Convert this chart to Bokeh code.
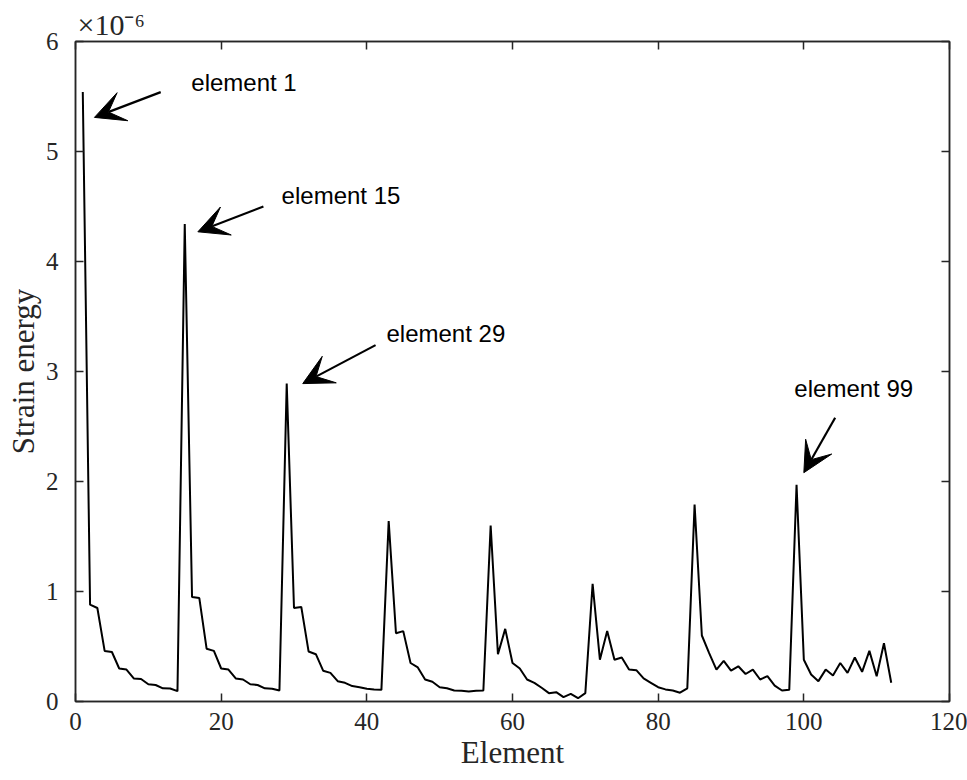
from bokeh.plotting import figure
from bokeh.models import (LinearAxis, FixedTicker, Arrow, VeeHead,
                          ColumnDataSource)
from bokeh.core.properties import value
from bokeh.embed import file_html
from bokeh.resources import INLINE

# ---- data (strain energy in units of 1e-6) ----
elements = list(range(1, 113))
strain_energy = [
    5.54, 0.88, 0.85, 0.46, 0.45, 0.30, 0.29, 0.21, 0.205, 0.157,
    0.15, 0.12, 0.118, 0.094, 4.34, 0.95, 0.94, 0.48, 0.46, 0.30,
    0.29, 0.21, 0.20, 0.157, 0.15, 0.12, 0.115, 0.10, 2.89, 0.85,
    0.86, 0.455, 0.43, 0.28, 0.26, 0.185, 0.17, 0.14, 0.13, 0.115,
    0.11, 0.106, 1.64, 0.62, 0.64, 0.35, 0.31, 0.20, 0.18, 0.13,
    0.12, 0.10, 0.097, 0.09, 0.097, 0.10, 1.60, 0.43, 0.66, 0.35,
    0.30, 0.20, 0.17, 0.125, 0.076, 0.085, 0.04, 0.07, 0.03, 0.076,
    1.07, 0.38, 0.64, 0.38, 0.40, 0.29, 0.285, 0.21, 0.17, 0.13,
    0.11, 0.10, 0.08, 0.12, 1.79, 0.60, 0.44, 0.29, 0.37, 0.28,
    0.32, 0.25, 0.29, 0.20, 0.23, 0.145, 0.10, 0.106, 1.97, 0.38,
    0.245, 0.185, 0.29, 0.236, 0.35, 0.26, 0.40, 0.27, 0.46, 0.23,
    0.53, 0.17,
]
x_ticks = [0, 20, 40, 60, 80, 100, 120]
y_ticks = [0, 1, 2, 3, 4, 5, 6]
exponent_text = "\u00d710\u207b\u2076"

# annotations (data coordinates)
ann_text = ["element 1", "element 15", "element 29", "element 99"]
ann_text_x = [15.9, 28.3, 42.7, 98.7]
ann_text_y = [5.63, 4.60, 3.35, 2.85]
arrow_x0 = [11.7, 25.8, 41.2, 104.3]
arrow_y0 = [5.54, 4.50, 3.24, 2.58]
arrow_x1 = [2.6, 16.8, 31.2, 100.0]
arrow_y1 = [5.31, 4.27, 2.89, 2.08]

AX = "#262626"
SERIF = "Liberation Serif"
SANS = "Liberation Sans"

p = figure(width=967, height=780, x_range=(0, 120), y_range=(0, 6),
           output_backend="svg", toolbar_location=None,
           min_border_left=75, min_border_right=18,
           min_border_top=41, min_border_bottom=79,
           background_fill_color="white", border_fill_color="white")
p.grid.visible = False
p.outline_line_color = AX
p.outline_line_width = 1.5

# exponent marker as left-aligned title
p.title.text = exponent_text
p.title.align = "left"
p.title.offset = 2
p.title.standoff = 1
p.title.text_font = SERIF
p.title.text_font_style = "normal"
p.title.text_font_size = "30px"
p.title.text_color = AX

p.line(elements, strain_energy, line_color="black", line_width=2)

def style_axis(ax, ticks, show_labels):
    ax.ticker = FixedTicker(ticks=ticks)
    ax.axis_line_color = AX
    ax.axis_line_width = 1.5
    ax.major_tick_line_color = AX
    ax.major_tick_line_width = 1.5
    ax.major_tick_in = 8
    ax.major_tick_out = 0
    ax.minor_tick_line_color = None
    ax.major_label_text_font = SERIF
    if show_labels:
        ax.major_label_text_color = AX
        ax.major_label_text_font_size = "25px"
    else:
        ax.major_label_text_color = None
        ax.major_label_text_font_size = "1px"
        ax.major_label_standoff = 0
    ax.axis_label_text_font = SERIF
    ax.axis_label_text_font_style = "normal"
    ax.axis_label_text_color = AX
    ax.axis_label_text_font_size = "31px"

style_axis(p.xaxis[0], x_ticks, True)
style_axis(p.yaxis[0], y_ticks, True)
p.xaxis[0].axis_label = "Element"
p.yaxis[0].axis_label = "Strain energy"
p.xaxis[0].major_label_standoff = 11
p.xaxis[0].axis_label_standoff = 2
p.yaxis[0].major_label_standoff = 17
p.yaxis[0].axis_label_standoff = 2

top_ax = LinearAxis()
right_ax = LinearAxis()
style_axis(top_ax, x_ticks, False)
style_axis(right_ax, y_ticks, False)
p.add_layout(top_ax, "above")
p.add_layout(right_ax, "right")

# arrows
arrow_src = ColumnDataSource(dict(x0=arrow_x0, y0=arrow_y0,
                                  x1=arrow_x1, y1=arrow_y1))
p.add_layout(Arrow(source=arrow_src, x_start="x0", y_start="y0",
                   x_end="x1", y_end="y1", line_color="black", line_width=2.2,
                   end=VeeHead(size=30, fill_color="black",
                               line_color="black", line_width=1)))

p.text(x=ann_text_x, y=ann_text_y, text=ann_text,
       text_font=value(SANS), text_font_size="24px", text_color="black",
       text_baseline="middle", text_align="left")

open("out.html", "w").write(file_html(p, INLINE))
